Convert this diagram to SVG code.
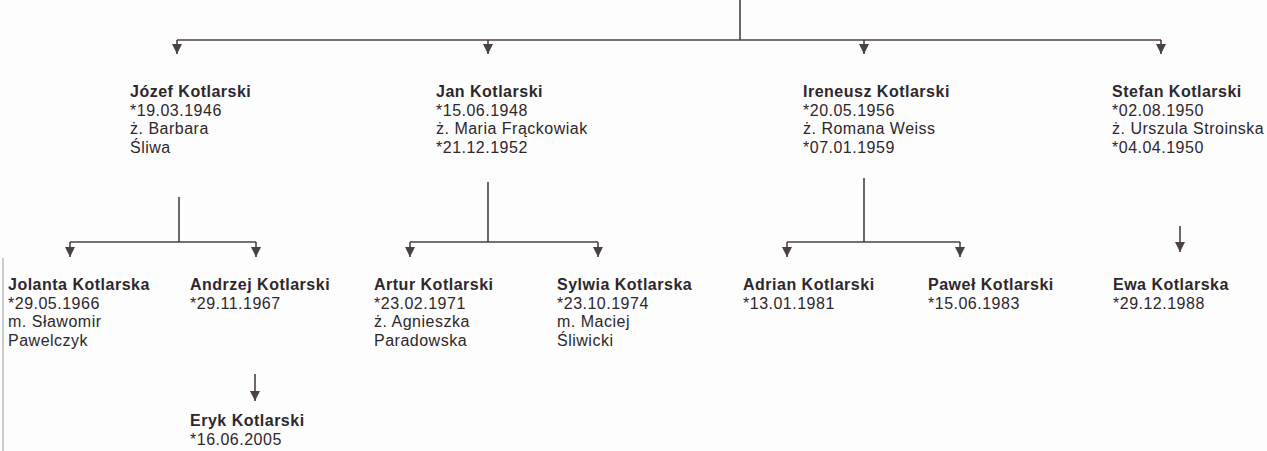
<svg xmlns="http://www.w3.org/2000/svg" width="1267" height="451" viewBox="0 0 1267 451">
<style>
.t{font-family:"Liberation Sans",Arial,sans-serif;font-size:16px;letter-spacing:0.5px;fill:#2e272b}
.b{font-weight:bold}
.c{stroke:#4a4047;stroke-width:1.6;fill:none}
</style>
<defs>
<marker id="ah" viewBox="0 0 10 10" refX="10" refY="5" markerWidth="11" markerHeight="10" markerUnits="userSpaceOnUse" orient="auto">
<path d="M0,0 L10,5 L0,10 z" fill="#4a4047"/>
</marker>
</defs>
<rect width="1267" height="451" fill="#fdfdfe"/>
<line x1="3" y1="258" x2="3" y2="451" stroke="#9a9a9a" stroke-width="1"/>
<g id="connectors">
<path class="c" d="M740,0 V40 M177,40 H1161"/>
<path class="c" d="M177,40 V54" marker-end="url(#ah)"/>
<path class="c" d="M488,40 V54" marker-end="url(#ah)"/>
<path class="c" d="M864,40 V54" marker-end="url(#ah)"/>
<path class="c" d="M1161,40 V54" marker-end="url(#ah)"/>
<path class="c" d="M179,197 V242 M70,242 H256"/>
<path class="c" d="M70,242 V257" marker-end="url(#ah)"/>
<path class="c" d="M256,242 V257" marker-end="url(#ah)"/>
<path class="c" d="M488,182 V242 M410,242 H598"/>
<path class="c" d="M410,242 V257" marker-end="url(#ah)"/>
<path class="c" d="M598,242 V257" marker-end="url(#ah)"/>
<path class="c" d="M864,178 V242 M787,242 H960"/>
<path class="c" d="M787,242 V257" marker-end="url(#ah)"/>
<path class="c" d="M960,242 V257" marker-end="url(#ah)"/>
<path class="c" d="M1180,226 V252" marker-end="url(#ah)"/>
<path class="c" d="M255,374 V401" marker-end="url(#ah)"/>
</g>
<g id="jozef"><text class="t" x="130" y="97"><tspan class="b">Józef Kotlarski</tspan><tspan x="130" dy="18.7">*19.03.1946</tspan><tspan x="130" dy="18.7">ż. Barbara</tspan><tspan x="130" dy="18.7">Śliwa</tspan></text></g>
<g id="jan"><text class="t" x="436" y="97"><tspan class="b">Jan Kotlarski</tspan><tspan x="436" dy="18.7">*15.06.1948</tspan><tspan x="436" dy="18.7">ż. Maria Frąckowiak</tspan><tspan x="436" dy="18.7">*21.12.1952</tspan></text></g>
<g id="ireneusz"><text class="t" x="803" y="97"><tspan class="b">Ireneusz Kotlarski</tspan><tspan x="803" dy="18.7">*20.05.1956</tspan><tspan x="803" dy="18.7">ż. Romana Weiss</tspan><tspan x="803" dy="18.7">*07.01.1959</tspan></text></g>
<g id="stefan"><text class="t" x="1112" y="97"><tspan class="b">Stefan Kotlarski</tspan><tspan x="1112" dy="18.7">*02.08.1950</tspan><tspan x="1112" dy="18.7">ż. Urszula Stroinska</tspan><tspan x="1112" dy="18.7">*04.04.1950</tspan></text></g>
<g id="jolanta"><text class="t" x="8" y="290"><tspan class="b">Jolanta Kotlarska</tspan><tspan x="8" dy="18.5">*29.05.1966</tspan><tspan x="8" dy="18.5">m. Sławomir</tspan><tspan x="8" dy="18.5">Pawelczyk</tspan></text></g>
<g id="andrzej"><text class="t" x="190" y="290"><tspan class="b">Andrzej Kotlarski</tspan><tspan x="190" dy="18.5">*29.11.1967</tspan></text></g>
<g id="artur"><text class="t" x="374" y="290"><tspan class="b">Artur Kotlarski</tspan><tspan x="374" dy="18.5">*23.02.1971</tspan><tspan x="374" dy="18.5">ż. Agnieszka</tspan><tspan x="374" dy="18.5">Paradowska</tspan></text></g>
<g id="sylwia"><text class="t" x="557" y="290"><tspan class="b">Sylwia Kotlarska</tspan><tspan x="557" dy="18.5">*23.10.1974</tspan><tspan x="557" dy="18.5">m. Maciej</tspan><tspan x="557" dy="18.5">Śliwicki</tspan></text></g>
<g id="adrian"><text class="t" x="743" y="290"><tspan class="b">Adrian Kotlarski</tspan><tspan x="743" dy="18.5">*13.01.1981</tspan></text></g>
<g id="pawel"><text class="t" x="928" y="290"><tspan class="b">Paweł Kotlarski</tspan><tspan x="928" dy="18.5">*15.06.1983</tspan></text></g>
<g id="ewa"><text class="t" x="1113" y="290"><tspan class="b">Ewa Kotlarska</tspan><tspan x="1113" dy="18.5">*29.12.1988</tspan></text></g>
<g id="eryk"><text class="t" x="190" y="426"><tspan class="b">Eryk Kotlarski</tspan><tspan x="190" dy="18.5">*16.06.2005</tspan></text></g>
</svg>
